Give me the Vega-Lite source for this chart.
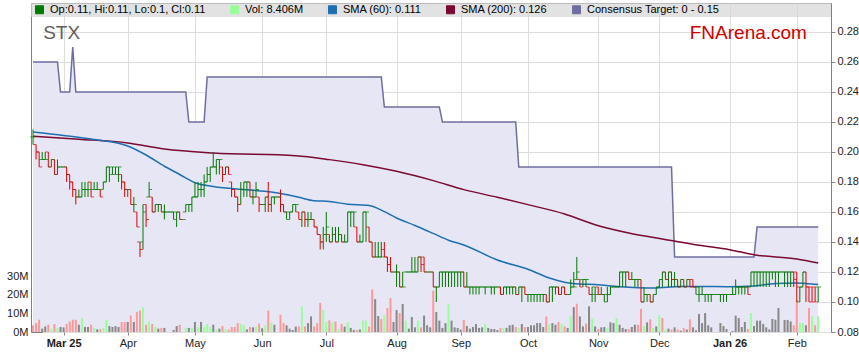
{
"$schema": "https://vega.github.io/schema/vega-lite/v6.json",
"width": 800,
"height": 329,
"autosize": {"type": "none"},
"padding": {"left": 31, "top": 3, "right": 28, "bottom": 31},
"background": "white",
"config": {
  "view": {"stroke": "#808080", "strokeWidth": 1},
  "font": "Liberation Sans",
  "axis": {"labelFont": "Liberation Sans", "labelFontSize": 11, "labelColor": "#222222", "domain": false, "gridColor": "#dddddd", "tickColor": "#888888", "labelOverlap": false}
},
"data": {"values": [
{"t":"2025-02-17","o":0.21,"h":0.215,"l":0.205,"c":0.21,"v":3.6,"d":-1,"tg":0.26,"s6":0.2133,"s2":0.2105},
{"t":"2025-02-18","o":0.205,"h":0.205,"l":0.195,"c":0.2,"v":4.8,"d":-1,"tg":0.26},
{"t":"2025-02-19","o":0.2,"h":0.2,"l":0.19,"c":0.19,"v":6.6,"d":-1,"tg":0.26},
{"t":"2025-02-20","o":0.195,"h":0.2,"l":0.195,"c":0.195,"v":1.8,"d":0,"tg":0.26},
{"t":"2025-02-21","o":0.195,"h":0.2,"l":0.195,"c":0.195,"v":3.0,"d":0,"tg":0.26},
{"t":"2025-02-24","o":0.2,"h":0.2,"l":0.19,"c":0.19,"v":3.9,"d":-1,"tg":0.26},
{"t":"2025-02-25","o":0.19,"h":0.195,"l":0.19,"c":0.195,"v":1.8,"d":1,"tg":0.26},
{"t":"2025-02-26","o":0.195,"h":0.195,"l":0.185,"c":0.185,"v":4.3,"d":-1,"tg":0.26},
{"t":"2025-02-27","o":0.185,"h":0.195,"l":0.185,"c":0.19,"v":2.2,"d":1,"tg":0.26},
{"t":"2025-02-28","o":0.19,"h":0.19,"l":0.19,"c":0.19,"v":2.7,"d":0,"tg":0.24},
{"t":"2025-03-03","o":0.19,"h":0.19,"l":0.19,"c":0.19,"v":2.5,"d":0,"tg":0.24,"s6":0.211},
{"t":"2025-03-04","o":0.19,"h":0.19,"l":0.18,"c":0.185,"v":4.3,"d":-1,"tg":0.24},
{"t":"2025-03-05","o":0.185,"h":0.185,"l":0.175,"c":0.18,"v":5.7,"d":-1,"tg":0.24},
{"t":"2025-03-06","o":0.18,"h":0.18,"l":0.17,"c":0.175,"v":6.6,"d":-1,"tg":0.27},
{"t":"2025-03-07","o":0.175,"h":0.175,"l":0.165,"c":0.17,"v":6.6,"d":-1,"tg":0.24},
{"t":"2025-03-10","o":0.17,"h":0.175,"l":0.17,"c":0.17,"v":3.9,"d":0,"tg":0.24,"s2":0.2085},
{"t":"2025-03-11","o":0.17,"h":0.18,"l":0.17,"c":0.175,"v":7.5,"d":1,"tg":0.24},
{"t":"2025-03-12","o":0.175,"h":0.18,"l":0.17,"c":0.175,"v":2.7,"d":0,"tg":0.24},
{"t":"2025-03-13","o":0.175,"h":0.18,"l":0.17,"c":0.175,"v":2.7,"d":0,"tg":0.24},
{"t":"2025-03-14","o":0.18,"h":0.18,"l":0.17,"c":0.17,"v":3.9,"d":-1,"tg":0.24},
{"t":"2025-03-17","o":0.175,"h":0.18,"l":0.175,"c":0.175,"v":2.2,"d":1,"tg":0.24,"s6":0.2083},
{"t":"2025-03-18","o":0.175,"h":0.18,"l":0.175,"c":0.175,"v":1.4,"d":0,"tg":0.24},
{"t":"2025-03-19","o":0.175,"h":0.175,"l":0.17,"c":0.17,"v":1.4,"d":-1,"tg":0.24},
{"t":"2025-03-20","o":0.175,"h":0.18,"l":0.175,"c":0.18,"v":2.2,"d":1,"tg":0.24},
{"t":"2025-03-21","o":0.18,"h":0.19,"l":0.18,"c":0.19,"v":6.5,"d":1,"tg":0.24},
{"t":"2025-03-24","o":0.19,"h":0.19,"l":0.18,"c":0.19,"v":3.2,"d":0,"tg":0.24},
{"t":"2025-03-25","o":0.185,"h":0.19,"l":0.185,"c":0.19,"v":2.7,"d":0,"tg":0.24},
{"t":"2025-03-26","o":0.185,"h":0.19,"l":0.185,"c":0.19,"v":3.2,"d":0,"tg":0.24},
{"t":"2025-03-27","o":0.185,"h":0.19,"l":0.18,"c":0.19,"v":2.7,"d":0,"tg":0.24},
{"t":"2025-03-28","o":0.185,"h":0.185,"l":0.175,"c":0.18,"v":5.4,"d":-1,"tg":0.24},
{"t":"2025-03-31","o":0.18,"h":0.18,"l":0.17,"c":0.175,"v":5.4,"d":-1,"tg":0.24},
{"t":"2025-04-01","o":0.175,"h":0.175,"l":0.17,"c":0.175,"v":5.4,"d":0,"tg":0.24,"s6":0.204,"s2":0.206},
{"t":"2025-04-02","o":0.175,"h":0.175,"l":0.165,"c":0.165,"v":8.8,"d":-1,"tg":0.24},
{"t":"2025-04-03","o":0.165,"h":0.17,"l":0.16,"c":0.165,"v":5.4,"d":0,"tg":0.24},
{"t":"2025-04-04","o":0.16,"h":0.16,"l":0.15,"c":0.15,"v":10.8,"d":-1,"tg":0.24},
{"t":"2025-04-07","o":0.14,"h":0.14,"l":0.13,"c":0.135,"v":11.5,"d":-1,"tg":0.24},
{"t":"2025-04-08","o":0.14,"h":0.165,"l":0.135,"c":0.16,"v":13.4,"d":1,"tg":0.24},
{"t":"2025-04-09","o":0.165,"h":0.165,"l":0.15,"c":0.155,"v":3.9,"d":-1,"tg":0.24,"s6":0.198},
{"t":"2025-04-10","o":0.17,"h":0.18,"l":0.17,"c":0.175,"v":5.7,"d":1,"tg":0.24},
{"t":"2025-04-11","o":0.17,"h":0.17,"l":0.16,"c":0.16,"v":4.3,"d":-1,"tg":0.24},
{"t":"2025-04-14","o":0.16,"h":0.165,"l":0.16,"c":0.165,"v":2.7,"d":1,"tg":0.24},
{"t":"2025-04-15","o":0.165,"h":0.165,"l":0.16,"c":0.165,"v":1.8,"d":0,"tg":0.24},
{"t":"2025-04-16","o":0.165,"h":0.165,"l":0.16,"c":0.16,"v":2.2,"d":-1,"tg":0.24},
{"t":"2025-04-17","o":0.16,"h":0.165,"l":0.155,"c":0.16,"v":2.2,"d":0,"tg":0.24,"s6":0.1905,"s2":0.202},
{"t":"2025-04-18","o":0.16,"h":0.16,"l":0.16,"c":0.16,"v":0,"d":0,"tg":0.24},
{"t":"2025-04-21","o":0.16,"h":0.16,"l":0.16,"c":0.16,"v":0,"d":0,"tg":0.24},
{"t":"2025-04-22","o":0.16,"h":0.16,"l":0.155,"c":0.16,"v":1.1,"d":0,"tg":0.24},
{"t":"2025-04-23","o":0.155,"h":0.16,"l":0.15,"c":0.16,"v":3.2,"d":0,"tg":0.24},
{"t":"2025-04-24","o":0.16,"h":0.16,"l":0.155,"c":0.155,"v":3.9,"d":-1,"tg":0.24,"s6":0.185},
{"t":"2025-04-25","o":0.155,"h":0.155,"l":0.155,"c":0.155,"v":0,"d":0,"tg":0.24},
{"t":"2025-04-28","o":0.16,"h":0.165,"l":0.16,"c":0.165,"v":2.2,"d":1,"tg":0.24},
{"t":"2025-04-29","o":0.165,"h":0.165,"l":0.16,"c":0.165,"v":2.2,"d":0,"tg":0.22},
{"t":"2025-04-30","o":0.165,"h":0.17,"l":0.16,"c":0.17,"v":2.2,"d":1,"tg":0.22},
{"t":"2025-05-01","o":0.17,"h":0.18,"l":0.17,"c":0.17,"v":5.4,"d":0,"tg":0.22,"s6":0.1795},
{"t":"2025-05-02","o":0.17,"h":0.18,"l":0.17,"c":0.175,"v":2.7,"d":1,"tg":0.22},
{"t":"2025-05-05","o":0.175,"h":0.18,"l":0.17,"c":0.175,"v":5.4,"d":0,"tg":0.22},
{"t":"2025-05-06","o":0.175,"h":0.185,"l":0.17,"c":0.18,"v":2.7,"d":1,"tg":0.22},
{"t":"2025-05-07","o":0.18,"h":0.19,"l":0.18,"c":0.185,"v":4.3,"d":1,"tg":0.25},
{"t":"2025-05-08","o":0.185,"h":0.19,"l":0.18,"c":0.19,"v":2.7,"d":1,"tg":0.25},
{"t":"2025-05-09","o":0.19,"h":0.2,"l":0.19,"c":0.19,"v":3.9,"d":0,"tg":0.25,"s6":0.177,"s2":0.1993},
{"t":"2025-05-12","o":0.19,"h":0.195,"l":0.185,"c":0.195,"v":1.4,"d":1,"tg":0.25},
{"t":"2025-05-13","o":0.195,"h":0.195,"l":0.185,"c":0.195,"v":1.8,"d":0,"tg":0.25},
{"t":"2025-05-14","o":0.19,"h":0.19,"l":0.18,"c":0.185,"v":3.2,"d":-1,"tg":0.25},
{"t":"2025-05-15","o":0.185,"h":0.19,"l":0.185,"c":0.19,"v":1.6,"d":1,"tg":0.25},
{"t":"2025-05-16","o":0.19,"h":0.19,"l":0.185,"c":0.185,"v":1.3,"d":-1,"tg":0.25},
{"t":"2025-05-19","o":0.18,"h":0.18,"l":0.17,"c":0.175,"v":2.7,"d":-1,"tg":0.25},
{"t":"2025-05-20","o":0.175,"h":0.175,"l":0.17,"c":0.17,"v":2.7,"d":-1,"tg":0.25},
{"t":"2025-05-21","o":0.17,"h":0.17,"l":0.16,"c":0.165,"v":4.8,"d":-1,"tg":0.25},
{"t":"2025-05-22","o":0.165,"h":0.18,"l":0.165,"c":0.175,"v":4.3,"d":1,"tg":0.25},
{"t":"2025-05-23","o":0.175,"h":0.18,"l":0.17,"c":0.18,"v":3.7,"d":1,"tg":0.25},
{"t":"2025-05-26","o":0.18,"h":0.18,"l":0.17,"c":0.18,"v":1.4,"d":0,"tg":0.25,"s6":0.1748},
{"t":"2025-05-27","o":0.18,"h":0.18,"l":0.17,"c":0.17,"v":2.7,"d":-1,"tg":0.25},
{"t":"2025-05-28","o":0.17,"h":0.175,"l":0.165,"c":0.17,"v":2.5,"d":0,"tg":0.25},
{"t":"2025-05-29","o":0.17,"h":0.18,"l":0.17,"c":0.175,"v":3.0,"d":1,"tg":0.25},
{"t":"2025-05-30","o":0.17,"h":0.17,"l":0.16,"c":0.165,"v":4.5,"d":-1,"tg":0.25},
{"t":"2025-06-02","o":0.165,"h":0.165,"l":0.165,"c":0.165,"v":2.0,"d":0,"tg":0.25},
{"t":"2025-06-03","o":0.165,"h":0.17,"l":0.16,"c":0.17,"v":3.5,"d":1,"tg":0.25},
{"t":"2025-06-04","o":0.17,"h":0.18,"l":0.16,"c":0.165,"v":11.5,"d":-1,"tg":0.25},
{"t":"2025-06-05","o":0.165,"h":0.17,"l":0.16,"c":0.17,"v":5.0,"d":1,"tg":0.25,"s6":0.1733},
{"t":"2025-06-06","o":0.17,"h":0.17,"l":0.165,"c":0.17,"v":3.9,"d":0,"tg":0.25},
{"t":"2025-06-09","o":0.17,"h":0.17,"l":0.17,"c":0.17,"v":0,"d":0,"tg":0.25},
{"t":"2025-06-10","o":0.17,"h":0.175,"l":0.16,"c":0.165,"v":9.3,"d":-1,"tg":0.25},
{"t":"2025-06-11","o":0.165,"h":0.165,"l":0.16,"c":0.16,"v":4.8,"d":-1,"tg":0.25},
{"t":"2025-06-12","o":0.16,"h":0.16,"l":0.155,"c":0.16,"v":3.6,"d":0,"tg":0.25},
{"t":"2025-06-13","o":0.155,"h":0.16,"l":0.155,"c":0.16,"v":1.8,"d":0,"tg":0.25},
{"t":"2025-06-16","o":0.16,"h":0.165,"l":0.16,"c":0.165,"v":1.1,"d":0,"tg":0.25},
{"t":"2025-06-17","o":0.165,"h":0.165,"l":0.16,"c":0.165,"v":2.9,"d":0,"tg":0.25,"s2":0.1975},
{"t":"2025-06-18","o":0.16,"h":0.16,"l":0.155,"c":0.155,"v":3.0,"d":-1,"tg":0.25,"s6":0.1698},
{"t":"2025-06-19","o":0.155,"h":0.16,"l":0.15,"c":0.16,"v":13.8,"d":1,"tg":0.25},
{"t":"2025-06-20","o":0.16,"h":0.16,"l":0.15,"c":0.155,"v":3.0,"d":-1,"tg":0.25},
{"t":"2025-06-23","o":0.155,"h":0.16,"l":0.15,"c":0.155,"v":4.8,"d":0,"tg":0.25},
{"t":"2025-06-24","o":0.155,"h":0.16,"l":0.155,"c":0.155,"v":8.4,"d":0,"tg":0.25},
{"t":"2025-06-25","o":0.155,"h":0.155,"l":0.15,"c":0.15,"v":3.0,"d":-1,"tg":0.25,"s6":0.1675},
{"t":"2025-06-26","o":0.15,"h":0.15,"l":0.145,"c":0.145,"v":4.8,"d":-1,"tg":0.25},
{"t":"2025-06-27","o":0.145,"h":0.145,"l":0.135,"c":0.14,"v":15.6,"d":-1,"tg":0.25},
{"t":"2025-06-30","o":0.14,"h":0.15,"l":0.135,"c":0.145,"v":11.8,"d":1,"tg":0.25},
{"t":"2025-07-01","o":0.145,"h":0.16,"l":0.14,"c":0.15,"v":5.4,"d":1,"tg":0.25},
{"t":"2025-07-02","o":0.145,"h":0.145,"l":0.14,"c":0.14,"v":6.3,"d":-1,"tg":0.25,"s6":0.167,"s2":0.1949},
{"t":"2025-07-03","o":0.14,"h":0.15,"l":0.14,"c":0.145,"v":5.2,"d":1,"tg":0.25},
{"t":"2025-07-04","o":0.145,"h":0.15,"l":0.14,"c":0.14,"v":5.7,"d":-1,"tg":0.25},
{"t":"2025-07-07","o":0.14,"h":0.15,"l":0.14,"c":0.145,"v":1.6,"d":1,"tg":0.25},
{"t":"2025-07-08","o":0.145,"h":0.145,"l":0.14,"c":0.14,"v":4.3,"d":-1,"tg":0.25},
{"t":"2025-07-09","o":0.14,"h":0.145,"l":0.14,"c":0.14,"v":2.9,"d":0,"tg":0.25},
{"t":"2025-07-10","o":0.14,"h":0.16,"l":0.14,"c":0.16,"v":5.4,"d":1,"tg":0.25,"s6":0.1652},
{"t":"2025-07-11","o":0.16,"h":0.16,"l":0.15,"c":0.16,"v":2.2,"d":0,"tg":0.25},
{"t":"2025-07-14","o":0.16,"h":0.16,"l":0.15,"c":0.16,"v":1.1,"d":0,"tg":0.25},
{"t":"2025-07-15","o":0.15,"h":0.15,"l":0.14,"c":0.14,"v":1.1,"d":-1,"tg":0.25},
{"t":"2025-07-16","o":0.14,"h":0.145,"l":0.14,"c":0.14,"v":1.4,"d":0,"tg":0.25},
{"t":"2025-07-17","o":0.14,"h":0.16,"l":0.14,"c":0.16,"v":6.3,"d":1,"tg":0.25,"s2":0.1915},
{"t":"2025-07-18","o":0.16,"h":0.16,"l":0.14,"c":0.16,"v":6.1,"d":1,"tg":0.25},
{"t":"2025-07-21","o":0.15,"h":0.15,"l":0.14,"c":0.14,"v":3.0,"d":-1,"tg":0.25,"s6":0.1643},
{"t":"2025-07-22","o":0.14,"h":0.14,"l":0.13,"c":0.13,"v":22.9,"d":-1,"tg":0.25},
{"t":"2025-07-23","o":0.13,"h":0.14,"l":0.13,"c":0.13,"v":17.7,"d":0,"tg":0.25},
{"t":"2025-07-24","o":0.13,"h":0.14,"l":0.13,"c":0.13,"v":8.6,"d":0,"tg":0.25},
{"t":"2025-07-25","o":0.13,"h":0.14,"l":0.13,"c":0.13,"v":7.0,"d":-1,"tg":0.25},
{"t":"2025-07-28","o":0.135,"h":0.14,"l":0.13,"c":0.13,"v":9.0,"d":1,"tg":0.23,"s6":0.1602},
{"t":"2025-07-29","o":0.13,"h":0.13,"l":0.12,"c":0.125,"v":12.9,"d":-1,"tg":0.23},
{"t":"2025-07-30","o":0.125,"h":0.13,"l":0.12,"c":0.12,"v":18.3,"d":-1,"tg":0.23},
{"t":"2025-07-31","o":0.12,"h":0.12,"l":0.12,"c":0.12,"v":5.4,"d":0,"tg":0.23},
{"t":"2025-08-01","o":0.12,"h":0.125,"l":0.11,"c":0.12,"v":11.8,"d":0,"tg":0.23,"s6":0.156,"s2":0.1871},
{"t":"2025-08-04","o":0.12,"h":0.12,"l":0.11,"c":0.11,"v":10.2,"d":-1,"tg":0.23},
{"t":"2025-08-05","o":0.11,"h":0.12,"l":0.11,"c":0.11,"v":15.1,"d":0,"tg":0.23},
{"t":"2025-08-06","o":0.12,"h":0.12,"l":0.12,"c":0.12,"v":6.1,"d":1,"tg":0.23},
{"t":"2025-08-07","o":0.12,"h":0.12,"l":0.12,"c":0.12,"v":1.8,"d":0,"tg":0.23},
{"t":"2025-08-08","o":0.12,"h":0.13,"l":0.12,"c":0.12,"v":8.1,"d":0,"tg":0.23},
{"t":"2025-08-11","o":0.12,"h":0.13,"l":0.12,"c":0.12,"v":2.5,"d":0,"tg":0.23,"s6":0.151},
{"t":"2025-08-12","o":0.12,"h":0.13,"l":0.12,"c":0.13,"v":6.1,"d":1,"tg":0.23},
{"t":"2025-08-13","o":0.13,"h":0.13,"l":0.12,"c":0.125,"v":2.5,"d":-1,"tg":0.23},
{"t":"2025-08-14","o":0.13,"h":0.13,"l":0.12,"c":0.12,"v":8.8,"d":0,"tg":0.23},
{"t":"2025-08-15","o":0.12,"h":0.12,"l":0.12,"c":0.12,"v":3.6,"d":0,"tg":0.23},
{"t":"2025-08-18","o":0.12,"h":0.12,"l":0.12,"c":0.12,"v":2.5,"d":0,"tg":0.23},
{"t":"2025-08-19","o":0.12,"h":0.12,"l":0.11,"c":0.11,"v":22.2,"d":-1,"tg":0.23,"s6":0.1457,"s2":0.1809},
{"t":"2025-08-20","o":0.11,"h":0.11,"l":0.1,"c":0.11,"v":10.8,"d":0,"tg":0.23},
{"t":"2025-08-21","o":0.11,"h":0.12,"l":0.11,"c":0.12,"v":6.1,"d":0,"tg":0.23},
{"t":"2025-08-22","o":0.12,"h":0.12,"l":0.11,"c":0.12,"v":2.2,"d":0,"tg":0.22},
{"t":"2025-08-25","o":0.12,"h":0.12,"l":0.11,"c":0.12,"v":4.8,"d":0,"tg":0.22},
{"t":"2025-08-26","o":0.12,"h":0.12,"l":0.11,"c":0.12,"v":15.1,"d":1,"tg":0.22,"s6":0.1412},
{"t":"2025-08-27","o":0.12,"h":0.12,"l":0.11,"c":0.12,"v":6.1,"d":0,"tg":0.22},
{"t":"2025-08-28","o":0.12,"h":0.12,"l":0.11,"c":0.12,"v":2.5,"d":0,"tg":0.22},
{"t":"2025-08-29","o":0.12,"h":0.12,"l":0.11,"c":0.12,"v":2.2,"d":0,"tg":0.22},
{"t":"2025-09-01","o":0.12,"h":0.12,"l":0.11,"c":0.12,"v":1.3,"d":0,"tg":0.22},
{"t":"2025-09-02","o":0.12,"h":0.12,"l":0.11,"c":0.11,"v":6.5,"d":-1,"tg":0.22,"s6":0.138,"s2":0.1749},
{"t":"2025-09-03","o":0.11,"h":0.12,"l":0.11,"c":0.11,"v":3.2,"d":0,"tg":0.22},
{"t":"2025-09-04","o":0.11,"h":0.11,"l":0.105,"c":0.11,"v":1.8,"d":0,"tg":0.22},
{"t":"2025-09-05","o":0.11,"h":0.11,"l":0.105,"c":0.11,"v":2.7,"d":0,"tg":0.22},
{"t":"2025-09-08","o":0.11,"h":0.11,"l":0.105,"c":0.11,"v":4.3,"d":0,"tg":0.22},
{"t":"2025-09-09","o":0.11,"h":0.11,"l":0.105,"c":0.11,"v":2.2,"d":0,"tg":0.22},
{"t":"2025-09-10","o":0.11,"h":0.11,"l":0.11,"c":0.11,"v":2.5,"d":0,"tg":0.22},
{"t":"2025-09-11","o":0.11,"h":0.11,"l":0.105,"c":0.11,"v":4.3,"d":1,"tg":0.22},
{"t":"2025-09-12","o":0.11,"h":0.11,"l":0.11,"c":0.11,"v":2.2,"d":0,"tg":0.22},
{"t":"2025-09-15","o":0.11,"h":0.11,"l":0.105,"c":0.11,"v":1.6,"d":0,"tg":0.22},
{"t":"2025-09-16","o":0.11,"h":0.11,"l":0.105,"c":0.11,"v":1.6,"d":0,"tg":0.22},
{"t":"2025-09-17","o":0.11,"h":0.11,"l":0.11,"c":0.11,"v":1.1,"d":0,"tg":0.22,"s6":0.128,"s2":0.1698},
{"t":"2025-09-18","o":0.11,"h":0.11,"l":0.105,"c":0.105,"v":2.2,"d":-1,"tg":0.22},
{"t":"2025-09-19","o":0.105,"h":0.11,"l":0.105,"c":0.11,"v":2.2,"d":1,"tg":0.22},
{"t":"2025-09-22","o":0.11,"h":0.11,"l":0.105,"c":0.11,"v":2.2,"d":0,"tg":0.22},
{"t":"2025-09-23","o":0.11,"h":0.11,"l":0.105,"c":0.11,"v":3.6,"d":0,"tg":0.22},
{"t":"2025-09-24","o":0.11,"h":0.11,"l":0.105,"c":0.11,"v":3.9,"d":0,"tg":0.22},
{"t":"2025-09-25","o":0.11,"h":0.11,"l":0.105,"c":0.105,"v":2.7,"d":-1,"tg":0.22},
{"t":"2025-09-26","o":0.105,"h":0.11,"l":0.105,"c":0.11,"v":2.2,"d":1,"tg":0.19},
{"t":"2025-09-29","o":0.11,"h":0.11,"l":0.1,"c":0.11,"v":4.3,"d":0,"tg":0.19},
{"t":"2025-09-30","o":0.11,"h":0.11,"l":0.105,"c":0.105,"v":2.7,"d":-1,"tg":0.19},
{"t":"2025-10-01","o":0.105,"h":0.105,"l":0.1,"c":0.105,"v":2.7,"d":0,"tg":0.19,"s6":0.1218,"s2":0.1649},
{"t":"2025-10-02","o":0.105,"h":0.105,"l":0.1,"c":0.105,"v":3.6,"d":0,"tg":0.19},
{"t":"2025-10-03","o":0.105,"h":0.105,"l":0.1,"c":0.105,"v":3.6,"d":0,"tg":0.19},
{"t":"2025-10-06","o":0.105,"h":0.105,"l":0.1,"c":0.105,"v":4.8,"d":0,"tg":0.19},
{"t":"2025-10-07","o":0.105,"h":0.105,"l":0.1,"c":0.105,"v":4.8,"d":0,"tg":0.19},
{"t":"2025-10-08","o":0.105,"h":0.105,"l":0.1,"c":0.105,"v":2.7,"d":0,"tg":0.19},
{"t":"2025-10-09","o":0.105,"h":0.105,"l":0.1,"c":0.1,"v":8.4,"d":-1,"tg":0.19},
{"t":"2025-10-10","o":0.1,"h":0.11,"l":0.1,"c":0.11,"v":4.3,"d":1,"tg":0.19,"s6":0.116},
{"t":"2025-10-13","o":0.11,"h":0.11,"l":0.1,"c":0.11,"v":4.8,"d":0,"tg":0.19},
{"t":"2025-10-14","o":0.11,"h":0.11,"l":0.105,"c":0.11,"v":3.9,"d":0,"tg":0.19},
{"t":"2025-10-15","o":0.11,"h":0.11,"l":0.105,"c":0.105,"v":5.4,"d":-1,"tg":0.19},
{"t":"2025-10-16","o":0.105,"h":0.11,"l":0.105,"c":0.11,"v":4.3,"d":1,"tg":0.19},
{"t":"2025-10-17","o":0.11,"h":0.11,"l":0.105,"c":0.105,"v":3.0,"d":-1,"tg":0.19,"s6":0.1132,"s2":0.1587},
{"t":"2025-10-20","o":0.105,"h":0.105,"l":0.105,"c":0.105,"v":2.2,"d":0,"tg":0.19},
{"t":"2025-10-21","o":0.105,"h":0.115,"l":0.105,"c":0.11,"v":8.4,"d":1,"tg":0.19},
{"t":"2025-10-22","o":0.11,"h":0.12,"l":0.11,"c":0.11,"v":13.4,"d":0,"tg":0.19},
{"t":"2025-10-23","o":0.115,"h":0.13,"l":0.115,"c":0.12,"v":15.2,"d":-1,"tg":0.19},
{"t":"2025-10-24","o":0.115,"h":0.115,"l":0.11,"c":0.11,"v":8.4,"d":0,"tg":0.19,"s6":0.112},
{"t":"2025-10-27","o":0.115,"h":0.115,"l":0.11,"c":0.115,"v":3.0,"d":0,"tg":0.19},
{"t":"2025-10-28","o":0.115,"h":0.115,"l":0.11,"c":0.115,"v":4.5,"d":-1,"tg":0.19},
{"t":"2025-10-29","o":0.11,"h":0.11,"l":0.105,"c":0.105,"v":13.8,"d":0,"tg":0.19},
{"t":"2025-10-30","o":0.105,"h":0.11,"l":0.1,"c":0.11,"v":7.0,"d":1,"tg":0.19},
{"t":"2025-10-31","o":0.105,"h":0.11,"l":0.1,"c":0.105,"v":3.0,"d":0,"tg":0.19,"s6":0.1116,"s2":0.1515},
{"t":"2025-11-03","o":0.11,"h":0.11,"l":0.105,"c":0.105,"v":1.6,"d":-1,"tg":0.19},
{"t":"2025-11-04","o":0.105,"h":0.11,"l":0.105,"c":0.105,"v":2.5,"d":0,"tg":0.19},
{"t":"2025-11-05","o":0.105,"h":0.105,"l":0.1,"c":0.105,"v":2.7,"d":0,"tg":0.19},
{"t":"2025-11-06","o":0.1,"h":0.11,"l":0.1,"c":0.105,"v":2.2,"d":1,"tg":0.19},
{"t":"2025-11-07","o":0.105,"h":0.11,"l":0.105,"c":0.11,"v":5.2,"d":0,"tg":0.19},
{"t":"2025-11-10","o":0.11,"h":0.11,"l":0.11,"c":0.11,"v":4.8,"d":0,"tg":0.19},
{"t":"2025-11-11","o":0.11,"h":0.11,"l":0.11,"c":0.11,"v":7.5,"d":1,"tg":0.19},
{"t":"2025-11-12","o":0.11,"h":0.12,"l":0.11,"c":0.12,"v":3.9,"d":0,"tg":0.19,"s6":0.1102},
{"t":"2025-11-13","o":0.12,"h":0.12,"l":0.11,"c":0.12,"v":2.2,"d":0,"tg":0.19},
{"t":"2025-11-14","o":0.12,"h":0.12,"l":0.11,"c":0.12,"v":1.6,"d":0,"tg":0.19},
{"t":"2025-11-17","o":0.12,"h":0.12,"l":0.115,"c":0.115,"v":1.6,"d":-1,"tg":0.19,"s2":0.146},
{"t":"2025-11-18","o":0.115,"h":0.12,"l":0.115,"c":0.115,"v":2.7,"d":0,"tg":0.19},
{"t":"2025-11-19","o":0.115,"h":0.115,"l":0.11,"c":0.115,"v":3.9,"d":0,"tg":0.19},
{"t":"2025-11-20","o":0.115,"h":0.115,"l":0.11,"c":0.115,"v":3.9,"d":-1,"tg":0.19},
{"t":"2025-11-21","o":0.115,"h":0.115,"l":0.1,"c":0.1,"v":12.4,"d":-1,"tg":0.19},
{"t":"2025-11-24","o":0.1,"h":0.11,"l":0.1,"c":0.105,"v":3.2,"d":1,"tg":0.19},
{"t":"2025-11-25","o":0.105,"h":0.105,"l":0.1,"c":0.105,"v":5.2,"d":0,"tg":0.19},
{"t":"2025-11-26","o":0.105,"h":0.105,"l":0.1,"c":0.1,"v":6.8,"d":-1,"tg":0.19},
{"t":"2025-11-27","o":0.1,"h":0.105,"l":0.1,"c":0.105,"v":2.2,"d":1,"tg":0.19,"s6":0.1093},
{"t":"2025-11-28","o":0.105,"h":0.11,"l":0.105,"c":0.11,"v":3.0,"d":0,"tg":0.19},
{"t":"2025-12-01","o":0.11,"h":0.115,"l":0.11,"c":0.115,"v":9.0,"d":1,"tg":0.19},
{"t":"2025-12-02","o":0.115,"h":0.12,"l":0.11,"c":0.12,"v":7.5,"d":-1,"tg":0.19,"s2":0.142},
{"t":"2025-12-03","o":0.12,"h":0.12,"l":0.115,"c":0.115,"v":1.4,"d":1,"tg":0.19},
{"t":"2025-12-04","o":0.115,"h":0.12,"l":0.11,"c":0.12,"v":1.8,"d":0,"tg":0.19},
{"t":"2025-12-05","o":0.12,"h":0.12,"l":0.11,"c":0.115,"v":1.3,"d":-1,"tg":0.19},
{"t":"2025-12-08","o":0.115,"h":0.12,"l":0.11,"c":0.115,"v":2.5,"d":0,"tg":0.13},
{"t":"2025-12-09","o":0.115,"h":0.115,"l":0.11,"c":0.11,"v":1.4,"d":-1,"tg":0.13},
{"t":"2025-12-10","o":0.11,"h":0.115,"l":0.11,"c":0.115,"v":0.7,"d":0,"tg":0.13,"s6":0.1104},
{"t":"2025-12-11","o":0.115,"h":0.115,"l":0.11,"c":0.11,"v":2.2,"d":-1,"tg":0.13},
{"t":"2025-12-12","o":0.11,"h":0.115,"l":0.11,"c":0.115,"v":1.3,"d":0,"tg":0.13},
{"t":"2025-12-15","o":0.115,"h":0.115,"l":0.11,"c":0.11,"v":6.8,"d":-1,"tg":0.13},
{"t":"2025-12-16","o":0.115,"h":0.115,"l":0.11,"c":0.11,"v":2.5,"d":0,"tg":0.13},
{"t":"2025-12-17","o":0.11,"h":0.11,"l":0.105,"c":0.11,"v":0.9,"d":0,"tg":0.13},
{"t":"2025-12-18","o":0.105,"h":0.11,"l":0.1,"c":0.105,"v":9.7,"d":0,"tg":0.13,"s6":0.1104,"s2":0.1378},
{"t":"2025-12-19","o":0.105,"h":0.11,"l":0.105,"c":0.105,"v":4.8,"d":0,"tg":0.13},
{"t":"2025-12-22","o":0.105,"h":0.105,"l":0.1,"c":0.105,"v":10.2,"d":0,"tg":0.13},
{"t":"2025-12-23","o":0.105,"h":0.105,"l":0.1,"c":0.105,"v":3.6,"d":0,"tg":0.13},
{"t":"2025-12-24","o":0.105,"h":0.105,"l":0.1,"c":0.105,"v":2.5,"d":0,"tg":0.13},
{"t":"2025-12-25","o":0.105,"h":0.105,"l":0.105,"c":0.105,"v":0,"d":0,"tg":0.13},
{"t":"2025-12-26","o":0.105,"h":0.105,"l":0.105,"c":0.105,"v":0,"d":0,"tg":0.13},
{"t":"2025-12-29","o":0.105,"h":0.105,"l":0.1,"c":0.105,"v":4.8,"d":0,"tg":0.13},
{"t":"2025-12-30","o":0.105,"h":0.105,"l":0.1,"c":0.105,"v":3.2,"d":0,"tg":0.13},
{"t":"2025-12-31","o":0.105,"h":0.105,"l":0.1,"c":0.105,"v":1.6,"d":0,"tg":0.13},
{"t":"2026-01-01","o":0.105,"h":0.105,"l":0.105,"c":0.105,"v":0,"d":0,"tg":0.13,"s6":0.1102,"s2":0.1349},
{"t":"2026-01-02","o":0.105,"h":0.11,"l":0.105,"c":0.105,"v":0.5,"d":0,"tg":0.13},
{"t":"2026-01-05","o":0.105,"h":0.115,"l":0.105,"c":0.11,"v":8.8,"d":0,"tg":0.13},
{"t":"2026-01-06","o":0.11,"h":0.11,"l":0.105,"c":0.11,"v":7.5,"d":0,"tg":0.13},
{"t":"2026-01-07","o":0.11,"h":0.11,"l":0.105,"c":0.11,"v":2.7,"d":0,"tg":0.13},
{"t":"2026-01-08","o":0.11,"h":0.11,"l":0.105,"c":0.11,"v":5.4,"d":0,"tg":0.13},
{"t":"2026-01-09","o":0.11,"h":0.11,"l":0.105,"c":0.105,"v":1.6,"d":-1,"tg":0.13},
{"t":"2026-01-12","o":0.11,"h":0.12,"l":0.11,"c":0.12,"v":10.2,"d":1,"tg":0.13},
{"t":"2026-01-13","o":0.12,"h":0.12,"l":0.11,"c":0.12,"v":3.2,"d":0,"tg":0.13,"s6":0.1107,"s2":0.1315},
{"t":"2026-01-14","o":0.12,"h":0.12,"l":0.11,"c":0.12,"v":6.1,"d":0,"tg":0.15},
{"t":"2026-01-15","o":0.12,"h":0.12,"l":0.11,"c":0.12,"v":6.1,"d":0,"tg":0.15},
{"t":"2026-01-16","o":0.12,"h":0.12,"l":0.11,"c":0.12,"v":4.3,"d":0,"tg":0.15},
{"t":"2026-01-19","o":0.12,"h":0.12,"l":0.11,"c":0.12,"v":2.5,"d":0,"tg":0.15},
{"t":"2026-01-20","o":0.12,"h":0.12,"l":0.11,"c":0.12,"v":1.4,"d":0,"tg":0.15},
{"t":"2026-01-21","o":0.12,"h":0.12,"l":0.115,"c":0.12,"v":7.0,"d":0,"tg":0.15},
{"t":"2026-01-22","o":0.12,"h":0.12,"l":0.11,"c":0.12,"v":6.6,"d":0,"tg":0.15,"s6":0.1124},
{"t":"2026-01-23","o":0.12,"h":0.12,"l":0.11,"c":0.12,"v":12.9,"d":0,"tg":0.15},
{"t":"2026-01-26","o":0.12,"h":0.12,"l":0.12,"c":0.12,"v":0,"d":0,"tg":0.15},
{"t":"2026-01-27","o":0.12,"h":0.12,"l":0.11,"c":0.12,"v":6.5,"d":0,"tg":0.15},
{"t":"2026-01-28","o":0.12,"h":0.12,"l":0.11,"c":0.12,"v":6.5,"d":0,"tg":0.15},
{"t":"2026-01-29","o":0.12,"h":0.12,"l":0.11,"c":0.12,"v":5.7,"d":0,"tg":0.15},
{"t":"2026-01-30","o":0.12,"h":0.12,"l":0.11,"c":0.115,"v":3.6,"d":-1,"tg":0.15},
{"t":"2026-02-02","o":0.12,"h":0.12,"l":0.1,"c":0.11,"v":17.0,"d":-1,"tg":0.15,"s6":0.1127,"s2":0.1287},
{"t":"2026-02-03","o":0.1,"h":0.11,"l":0.1,"c":0.11,"v":4.8,"d":1,"tg":0.15},
{"t":"2026-02-04","o":0.11,"h":0.12,"l":0.11,"c":0.12,"v":4.8,"d":1,"tg":0.15},
{"t":"2026-02-05","o":0.12,"h":0.12,"l":0.1,"c":0.11,"v":3.6,"d":0,"tg":0.15},
{"t":"2026-02-06","o":0.11,"h":0.11,"l":0.1,"c":0.1,"v":12.9,"d":-1,"tg":0.15},
{"t":"2026-02-09","o":0.11,"h":0.11,"l":0.1,"c":0.1,"v":8.4,"d":1,"tg":0.15},
{"t":"2026-02-10","o":0.11,"h":0.11,"l":0.1,"c":0.1,"v":3.6,"d":-1,"tg":0.15},
{"t":"2026-02-11","o":0.11,"h":0.11,"l":0.1,"c":0.11,"v":8.406,"d":1,"tg":0.15,"s6":0.1116,"s2":0.126}
]},
"layer": [
  {
    "layer": [
      {
        "mark": {"type": "area", "color": "#e6e6f5", "opacity": 1},
        "encoding": {
          "x": {"field": "t", "type": "ordinal", "scale": {"type": "point", "range": [0.5, 788.7]},
            "axis": {"title": null, "values": ["2025-03-03","2025-04-01","2025-05-01","2025-06-02","2025-07-01","2025-08-01","2025-09-01","2025-10-01","2025-11-03","2025-12-01","2026-01-01","2026-02-02"],
              "labelExpr": "datum.value == '2025-03-03' ? 'Mar 25' : datum.value == '2026-01-01' ? 'Jan 26' : utcFormat(toDate(datum.value), '%b')",
              "labelFontWeight": {"condition": {"test": "datum.value == '2025-03-03' || datum.value == '2026-01-01'", "value": "bold"}, "value": "normal"},
              "labelAngle": 0, "grid": true, "tickSize": 3, "labelPadding": 2}},
          "y": {"field": "tg", "type": "quantitative", "scale": {"domain": [0.08, 0.2993], "nice": false, "zero": false},
            "axis": {"title": null, "orient": "right", "values": [0.08,0.1,0.12,0.14,0.16,0.18,0.2,0.22,0.24,0.26,0.28], "tickCount": 11, "format": ".2f", "grid": true, "tickSize": 4, "labelPadding": 2, "labelOverlap": false}},
          "y2": {"datum": 0.08}
        }
      },
      {
        "mark": {"type": "line", "strokeWidth": 1.5},
        "encoding": {
          "x": {"field": "t", "type": "ordinal"},
          "y": {"field": "tg", "type": "quantitative",
            "axis": {"title": null, "orient": "right", "values": [0.08,0.1,0.12,0.14,0.16,0.18,0.2,0.22,0.24,0.26,0.28], "tickCount": 11, "format": ".2f", "grid": true, "tickSize": 4, "labelPadding": 2, "labelOverlap": false}},
          "color": {"datum": "Consensus Target: 0 - 0.15"}
        }
      },
      {
        "data": {"values": [{}]},
        "mark": {"type": "text", "text": "STX", "align": "left", "baseline": "middle", "font": "Liberation Sans", "fontSize": 19, "color": "#5f5f5f", "dx": 1},
        "encoding": {
          "x": {"datum": "2025-02-20", "type": "ordinal"},
          "y": {"datum": 0.2793, "type": "quantitative",
            "axis": {"title": null, "orient": "right", "values": [0.08,0.1,0.12,0.14,0.16,0.18,0.2,0.22,0.24,0.26,0.28], "tickCount": 11, "format": ".2f", "grid": true, "tickSize": 4, "labelPadding": 2, "labelOverlap": false}}
        }
      },
      {
        "data": {"values": [{}]},
        "mark": {"type": "text", "text": "FNArena.com", "align": "right", "baseline": "middle", "font": "Liberation Sans", "fontSize": 19, "color": "#cc0000", "dx": 1},
        "encoding": {
          "x": {"datum": "2026-02-05", "type": "ordinal"},
          "y": {"datum": 0.2793, "type": "quantitative",
            "axis": {"title": null, "orient": "right", "values": [0.08,0.1,0.12,0.14,0.16,0.18,0.2,0.22,0.24,0.26,0.28], "tickCount": 11, "format": ".2f", "grid": true, "tickSize": 4, "labelPadding": 2, "labelOverlap": false}}
        }
      }
    ]
  },
  {
    "mark": {"type": "bar", "width": 2},
    "encoding": {
      "x": {"field": "t", "type": "ordinal"},
      "y": {"field": "v", "type": "quantitative", "scale": {"domain": [0, 177], "nice": false},
        "axis": {"title": null, "orient": "left", "values": [0, 10, 20, 30], "labelExpr": "datum.value + 'M'", "grid": false, "ticks": false, "labelPadding": 3, "labelOverlap": false}},
      "color": {"datum": "Vol: 8.406M", "condition": [{"test": "datum.d < 0", "value": "#ff9999"}, {"test": "datum.d == 0", "value": "#888888"}]}
    }
  },
  {
    "layer": [
      {
        "transform": [{"filter": "isValid(datum.s2)"}],
        "mark": {"type": "line", "strokeWidth": 1.5, "interpolate": "monotone"},
        "encoding": {
          "x": {"field": "t", "type": "ordinal"},
          "y": {"field": "s2", "type": "quantitative", "scale": {"domain": [0.08, 0.2993], "nice": false, "zero": false}, "axis": null},
          "color": {"datum": "SMA (200): 0.126",
            "scale": {"domain": ["Op:0.11, Hi:0.11, Lo:0.1, Cl:0.11", "Vol: 8.406M", "SMA (60): 0.111", "SMA (200): 0.126", "Consensus Target: 0 - 0.15"],
              "range": ["#007a00", "#99ff99", "#1f6fb0", "#7a0a30", "#6e6ea0"]},
            "legend": {"orient": "none", "legendX": 3, "legendY": 1, "direction": "horizontal", "columns": 5, "title": null,
              "symbolType": "square", "symbolSize": 64, "labelFont": "Liberation Sans", "labelFontSize": 11, "labelColor": "#000000",
              "labelOffset": 5, "columnPadding": 22, "padding": 0, "rowPadding": 0,
              "encode": {"symbols": {"update": {"fill": {"scale": "color", "field": "value"}, "stroke": {"value": "#333333"}, "strokeWidth": {"value": 1}, "opacity": {"value": 1}, "shape": {"value": "square"}, "size": {"value": 64}}}}}}
        }
      },
      {
        "transform": [{"filter": "isValid(datum.s6)"}],
        "mark": {"type": "line", "strokeWidth": 1.5, "interpolate": "monotone"},
        "encoding": {
          "x": {"field": "t", "type": "ordinal"},
          "y": {"field": "s6", "type": "quantitative", "axis": null},
          "color": {"datum": "SMA (60): 0.111"}
        }
      },
      {
        "mark": {"type": "rule", "strokeWidth": 1},
        "encoding": {
          "x": {"field": "t", "type": "ordinal"},
          "y": {"field": "l", "type": "quantitative", "axis": null},
          "y2": {"field": "h"},
          "color": {"datum": "Op:0.11, Hi:0.11, Lo:0.1, Cl:0.11", "condition": {"test": "datum.c < datum.o", "value": "#dd0000"}}
        }
      },
      {
        "mark": {"type": "tick", "orient": "horizontal", "size": 3, "thickness": 1, "xOffset": -1.5},
        "encoding": {
          "x": {"field": "t", "type": "ordinal"},
          "y": {"field": "o", "type": "quantitative", "axis": null},
          "color": {"datum": "Op:0.11, Hi:0.11, Lo:0.1, Cl:0.11", "condition": {"test": "datum.c < datum.o", "value": "#dd0000"}}
        }
      },
      {
        "mark": {"type": "tick", "orient": "horizontal", "size": 3, "thickness": 1, "xOffset": 1.5},
        "encoding": {
          "x": {"field": "t", "type": "ordinal"},
          "y": {"field": "c", "type": "quantitative", "axis": null},
          "color": {"datum": "Op:0.11, Hi:0.11, Lo:0.1, Cl:0.11", "condition": {"test": "datum.c < datum.o", "value": "#dd0000"}}
        }
      },
      {
        "data": {"values": [{}]},
        "mark": {"type": "rect", "color": "#d6d6d6", "opacity": 0.7},
        "encoding": {
          "y": {"datum": 0.29, "type": "quantitative", "axis": null},
          "y2": {"datum": 0.2993}
        }
      }
    ]
  }
],
"resolve": {"scale": {"y": "independent"}}
}
